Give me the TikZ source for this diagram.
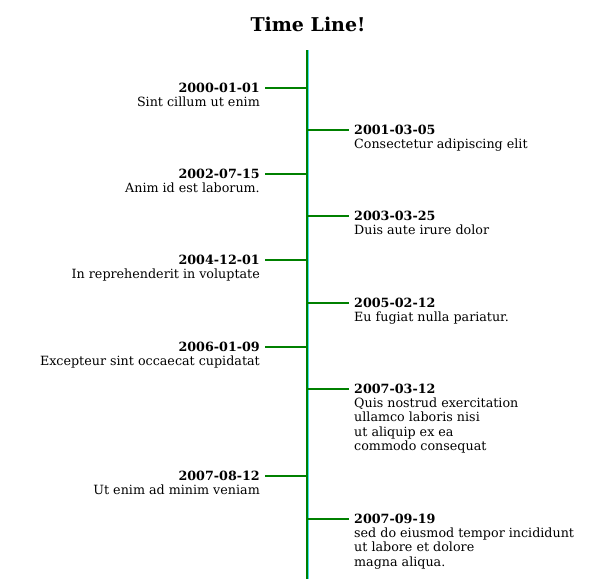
\documentclass[tikz,border=0pt]{standalone}
\usepackage{fontspec}
\setmainfont{DejaVu Serif}
\definecolor{tlgreen}{RGB}{0,128,0}
\definecolor{tlcyan}{RGB}{64,224,240}
\tikzset{
  datel/.style={font=\fontsize{12.7pt}{14.5pt}\selectfont\bfseries, inner xsep=5pt, inner ysep=0pt, anchor=east},
  dater/.style={font=\fontsize{12.7pt}{14.5pt}\selectfont\bfseries, inner xsep=5pt, inner ysep=0pt, anchor=west},
  descl/.style={font=\fontsize{12.7pt}{14.5pt}\selectfont, inner xsep=5pt, inner ysep=0pt, anchor=north east, align=right},
  descr/.style={font=\fontsize{12.7pt}{14.5pt}\selectfont, inner xsep=5pt, inner ysep=0pt, anchor=north west, align=left},
  tick/.style={draw=tlgreen, line width=2pt},
  axis/.style={draw=tlgreen, line width=2pt},
}
\begin{document}
\begin{tikzpicture}[x=1pt,y=-1pt]
\useasboundingbox (0,0) rectangle (613,579);
\node[font=\fontsize{19pt}{22pt}\selectfont\bfseries] (title) at (308,24) {Time Line!};
\coordinate (top) at (307,50);
\coordinate (bot) at (307,579);
\draw[tlcyan, line width=1pt] (308.8,50) -- (308.8,579);
\draw[axis] (top) -- (bot);
% events
\foreach \i/\y in {1/88,2/130,3/174,4/216,5/260,6/303,7/347,8/389,9/476,10/519}
  \coordinate (t\i) at (307,\y);
\node[datel] (d1) at (265,88) {2000-01-01};
\node[descl] (e1) at ([yshift=-3.5pt]d1.south east) {Sint cillum ut enim};
\node[dater] (d2) at (349,130) {2001-03-05};
\node[descr] (e2) at ([yshift=-3.5pt]d2.south west) {Consectetur adipiscing elit};
\node[datel] (d3) at (265,174) {2002-07-15};
\node[descl] (e3) at ([yshift=-3.5pt]d3.south east) {Anim id est laborum.};
\node[dater] (d4) at (349,216) {2003-03-25};
\node[descr] (e4) at ([yshift=-3.5pt]d4.south west) {Duis aute irure dolor};
\node[datel] (d5) at (265,260) {2004-12-01};
\node[descl] (e5) at ([yshift=-3.5pt]d5.south east) {In reprehenderit in voluptate};
\node[dater] (d6) at (349,303) {2005-02-12};
\node[descr] (e6) at ([yshift=-3.5pt]d6.south west) {Eu fugiat nulla pariatur.};
\node[datel] (d7) at (265,347) {2006-01-09};
\node[descl] (e7) at ([yshift=-3.5pt]d7.south east) {Excepteur sint occaecat cupidatat};
\node[dater] (d8) at (349,389) {2007-03-12};
\node[descr] (e8) at ([yshift=-3.5pt]d8.south west) {Quis nostrud exercitation\\ullamco laboris nisi\\ut aliquip ex ea\\commodo consequat};
\node[datel] (d9) at (265,476) {2007-08-12};
\node[descl] (e9) at ([yshift=-3.5pt]d9.south east) {Ut enim ad minim veniam};
\node[dater] (d10) at (349,519) {2007-09-19};
\node[descr] (e10) at ([yshift=-3.5pt]d10.south west) {sed do eiusmod tempor incididunt\\ut labore et dolore\\magna aliqua.};
\foreach \i in {1,...,10}
  \draw[tick] (t\i) -- (d\i);
\end{tikzpicture}
\end{document}
